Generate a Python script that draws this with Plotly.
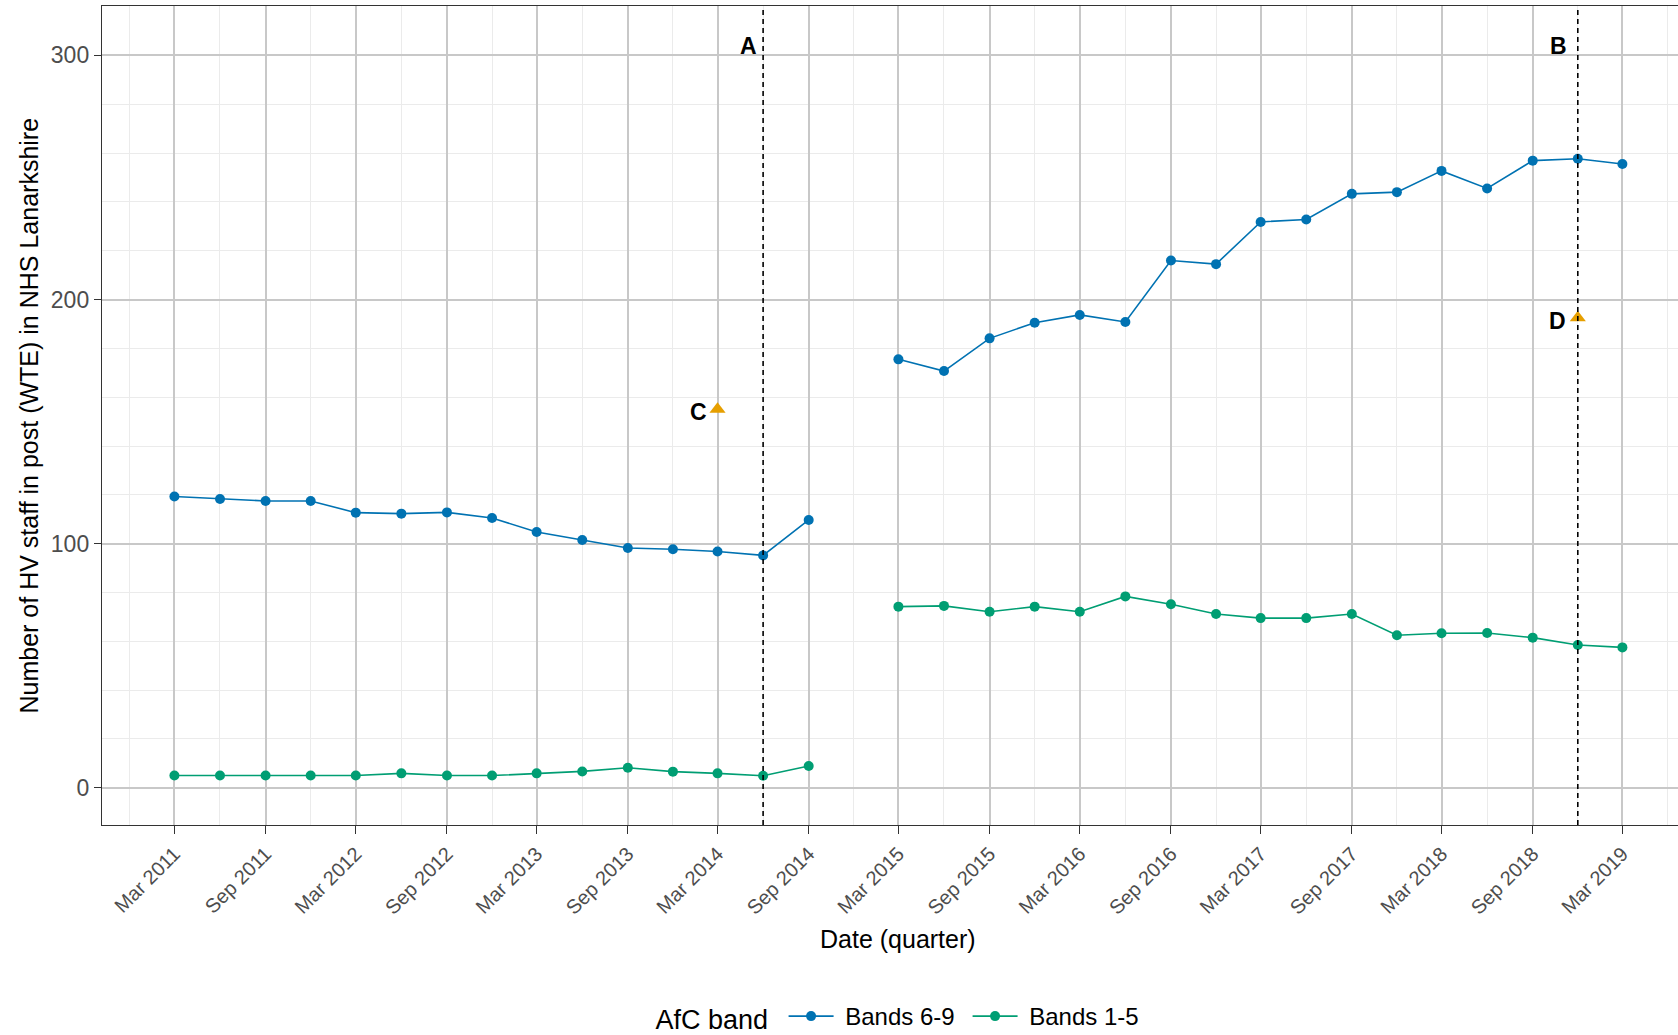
import plotly.graph_objects as go
from datetime import datetime, timedelta

# ---------------- data ----------------
quarters = ["2011-03-01", "2011-06-01", "2011-09-01", "2011-12-01",
            "2012-03-01", "2012-06-01", "2012-09-01", "2012-12-01",
            "2013-03-01", "2013-06-01", "2013-09-01", "2013-12-01",
            "2014-03-01", "2014-06-01", "2014-09-01", "2014-12-01",
            "2015-03-01", "2015-06-01", "2015-09-01", "2015-12-01",
            "2016-03-01", "2016-06-01", "2016-09-01", "2016-12-01",
            "2017-03-01", "2017-06-01", "2017-09-01", "2017-12-01",
            "2018-03-01", "2018-06-01", "2018-09-01", "2018-12-01",
            "2019-03-01"]

bands_6_9 = [119.3, 118.3, 117.5, 117.5, 112.7, 112.3, 112.8, 110.5,
             104.8, 101.5, 98.2, 97.7, 96.8, 95.2, 109.7, None,
             175.5, 170.7, 184.1, 190.5, 193.7, 190.8, 216.0, 214.5,
             231.8, 232.8, 243.3, 244.0, 252.7, 245.5, 256.9, 257.7,
             255.5]

bands_1_5 = [5.0, 5.0, 5.0, 5.0, 5.0, 5.9, 5.0, 5.0,
             5.9, 6.7, 8.2, 6.6, 5.9, 4.9, 8.9, None,
             74.2, 74.5, 72.1, 74.2, 72.1, 78.4, 75.2, 71.2,
             69.5, 69.5, 71.2, 62.5, 63.3, 63.4, 61.5, 58.5,
             57.5]

series_names = ["Bands 6-9", "Bands 1-5"]
series_colors = ["#0072B2", "#009E73"]

event_dates = ["2014-06-01", "2018-12-01"]
event_labels = ["A", "B"]
event_label_y = 305

point_dates = ["2014-03-01", "2018-12-01"]
point_values = [155.1, 192.5]
point_labels = ["C", "D"]

major_ticks = ["2011-03-01", "2011-09-01", "2012-03-01", "2012-09-01",
               "2013-03-01", "2013-09-01", "2014-03-01", "2014-09-01",
               "2015-03-01", "2015-09-01", "2016-03-01", "2016-09-01",
               "2017-03-01", "2017-09-01", "2018-03-01", "2018-09-01",
               "2019-03-01"]
major_tick_text = ["Mar 2011", "Sep 2011", "Mar 2012", "Sep 2012",
                   "Mar 2013", "Sep 2013", "Mar 2014", "Sep 2014",
                   "Mar 2015", "Sep 2015", "Mar 2016", "Sep 2016",
                   "Mar 2017", "Sep 2017", "Mar 2018", "Sep 2018",
                   "Mar 2019"]
minor_ticks = ["2010-12-01", "2011-06-01", "2011-12-01", "2012-06-01",
               "2012-12-01", "2013-06-01", "2013-12-01", "2014-06-01",
               "2014-12-01", "2015-06-01", "2015-12-01", "2016-06-01",
               "2016-12-01", "2017-06-01", "2017-12-01", "2018-06-01",
               "2018-12-01", "2019-06-01"]

y_major = [0, 100, 200, 300]
y_minor = [20, 40, 60, 80, 120, 140, 160, 180, 220, 240, 260, 280, 320]

# ---------------- figure ----------------
FONT = "Liberation Sans, Arial, sans-serif"
W, H = 1678, 1035
ML, MR, MT, MB = 102, 0, 6, 210

fig = go.Figure()

for name, vals, col in zip(series_names, [bands_6_9, bands_1_5], series_colors):
    fig.add_trace(go.Scatter(
        x=quarters, y=vals, name=" " + name, mode="lines+markers",
        line=dict(color=col, width=1.6),
        marker=dict(color=col, size=10),
        connectgaps=False,
    ))

fig.add_trace(go.Scatter(
    x=point_dates, y=point_values, mode="markers", showlegend=False,
    marker=dict(symbol="triangle-up", color="#E69F00", size=14),
    hoverinfo="skip",
))

# dashed event lines
for d in event_dates:
    fig.add_shape(type="line", xref="x", yref="paper", x0=d, x1=d, y0=0, y1=1,
                  line=dict(color="black", width=1.6, dash="5px,4px"))

annotations = []
for d, lab in zip(event_dates, event_labels):
    annotations.append(dict(x=d, y=event_label_y, xref="x", yref="y", text="<b>%s</b>" % lab,
                            showarrow=False, xanchor="right", yanchor="middle",
                            xshift=-4 if lab == "A" else -9, yshift=-3,
                            font=dict(family=FONT, size=23, color="black")))
for d, v, lab in zip(point_dates, point_values, point_labels):
    annotations.append(dict(x=d, y=v, xref="x", yref="y", text="<b>%s</b>" % lab,
                            showarrow=False, xanchor="right", yanchor="middle",
                            xshift=-9 if lab == "C" else -10, yshift=-3,
                            font=dict(family=FONT, size=23, color="black")))

plot_w = W - ML - MR
plot_h = H - MT - MB
# axis titles
annotations.append(dict(text="Date (quarter)", xref="paper", yref="paper",
                        x=(898 - ML) / plot_w, y=-(938.5 - (MT + plot_h)) / plot_h,
                        xanchor="center", yanchor="middle", showarrow=False,
                        font=dict(family=FONT, size=25, color="black")))
annotations.append(dict(text="Number of HV staff in post (WTE) in NHS Lanarkshire",
                        xref="paper", yref="paper", x=(28 - ML) / plot_w, y=0.5,
                        xanchor="center", yanchor="middle", textangle=-90, showarrow=False,
                        font=dict(family=FONT, size=25, color="black")))

# x range: ggplot-style 5% expansion on the left; right end cropped at the page edge
start = datetime(2011, 3, 1)
end = datetime(2019, 3, 1)
span = (end - start).days
px_per_day = 1448.0 / span
left = start - timedelta(days=0.05 * span)
right = end + timedelta(days=(W - 1622.4) / px_per_day)

fig.update_layout(
    width=W, height=H,
    margin=dict(l=ML, r=MR, t=MT, b=MB, autoexpand=False),
    paper_bgcolor="white", plot_bgcolor="white",
    font=dict(family=FONT, color="black"),
    annotations=annotations,
    showlegend=True,
    legend=dict(orientation="h", x=(903 - ML) / plot_w, xanchor="center",
                y=-(1017 - (MT + plot_h)) / plot_h, yanchor="middle",
                title=dict(text="AfC band ", side="left",
                           font=dict(family=FONT, size=27, color="black")),
                font=dict(family=FONT, size=24, color="black"),
                itemwidth=45, entrywidth=124, entrywidthmode="pixels",
                bgcolor="rgba(0,0,0,0)"),
    xaxis=dict(
        type="date",
        range=[left.strftime("%Y-%m-%d %H:%M"), right.strftime("%Y-%m-%d %H:%M")],
        tickmode="array", tickvals=major_ticks, ticktext=major_tick_text,
        tickangle=-45, tickfont=dict(family=FONT, size=20, color="#4D4D4D"),
        ticks="outside", ticklen=8, tickwidth=1.4, tickcolor="#333333",
        showgrid=True, gridcolor="#C8C8C8", gridwidth=1.6,
        minor=dict(tickmode="array", tickvals=minor_ticks, showgrid=True,
                   gridcolor="#EBEBEB", gridwidth=1.3, ticks=""),
        showline=True, linecolor="#333333", linewidth=1.4, mirror=True,
        zeroline=False,
    ),
    yaxis=dict(
        range=[-15.25, 320.25],
        tickmode="array", tickvals=y_major, ticktext=[str(v) for v in y_major],
        tickfont=dict(family=FONT, size=23, color="#4D4D4D"),
        ticks="outside", ticklen=7, tickwidth=1.4, tickcolor="#333333",
        showgrid=True, gridcolor="#C8C8C8", gridwidth=1.6,
        minor=dict(tickmode="array", tickvals=y_minor, showgrid=True,
                   gridcolor="#EBEBEB", gridwidth=1.3, ticks=""),
        showline=True, linecolor="#333333", linewidth=1.4, mirror=False,
        zeroline=False,
    ),
)

fig.write_html("out.html", config={"displayModeBar": False},
               post_script="document.body.style.margin='0';document.body.style.overflow='hidden';")
